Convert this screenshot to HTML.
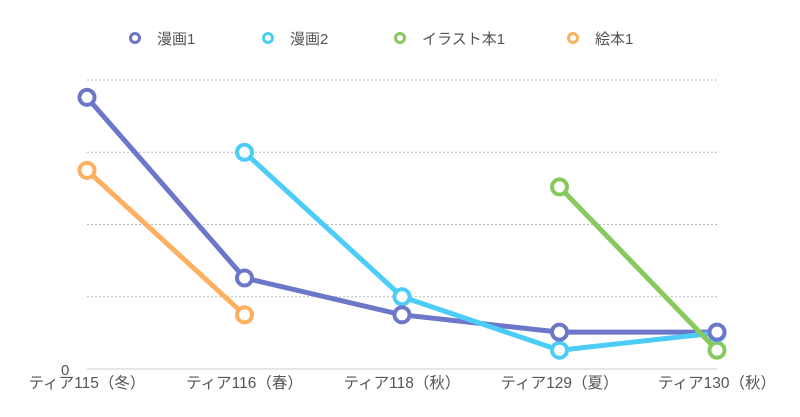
<!DOCTYPE html>
<html><head><meta charset="utf-8"><style>
body{margin:0;background:#fff;}
svg{display:block;font-family:"Liberation Sans","Noto Sans CJK JP",sans-serif;}
</style></head><body>
<svg id="chart" width="800" height="417"></svg>
<script>
const categories=["ティア115（冬）","ティア116（春）","ティア118（秋）","ティア129（夏）","ティア130（秋）"];
const seriesNames=["漫画1","漫画2","イラスト本1","絵本1"];
const manga1=[3.76,1.26,0.75,0.51,0.51];
const manga2=[null,3.0,1.0,0.26,0.5];
const illust1=[null,null,null,2.52,0.26];
const ehon1=[2.75,0.75,null,null,null];
const gridTicks=[1,2,3,4];
const colors=["#6c77c9","#4ccdf7","#88c95e","#fdb062"];
const allSeries=[manga1,manga2,illust1,ehon1];
const NS="http://www.w3.org/2000/svg";
const svg=document.getElementById('chart');
const x0=87,x1=717,yBase=369,yTop=80;
const xs=i=>x0+i*(x1-x0)/(categories.length-1);
const ys=v=>yBase-v*(yBase-yTop)/4;
function mk(t,a){const e=document.createElementNS(NS,t);for(const k in a)e.setAttribute(k,a[k]);svg.appendChild(e);return e;}
gridTicks.forEach(t=>{
 const g=mk('line',{x1:x0,x2:x1,y1:ys(t),y2:ys(t),stroke:'#bbb','stroke-dasharray':'2,2','stroke-width':1});
 
 
});
const base=mk('line',{x1:x0,x2:x1,y1:yBase,y2:yBase,stroke:'#ccc','stroke-width':1});


const z=mk('text',{x:61,y:375,'font-size':15,fill:'#555'});z.textContent='0';


categories.forEach((c,i)=>{
 const t=mk('text',{x:xs(i),y:388,'font-size':15.5,fill:'#555','text-anchor':'middle'});t.textContent=c;
 
 
});
allSeries.forEach((s,k)=>{
 let d='';let pen=false;
 s.forEach((v,i)=>{if(v==null){pen=false;return;}d+=(pen?'L':'M')+xs(i)+','+ys(v)+' ';pen=true;});
 const p=mk('path',{d:d,fill:'none',stroke:colors[k],'stroke-width':5,'stroke-linejoin':'round'});
 
 
});
for(let k=allSeries.length-1;k>=0;k--){
 allSeries[k].forEach((v,i)=>{if(v==null)return;
  const c=mk('circle',{cx:xs(i),cy:ys(v),r:7.5,fill:'#fff',stroke:colors[k],'stroke-width':4});
  
  
 });
}
const lx=[135,268,400,573];
seriesNames.forEach((n,k)=>{
 const c=mk('circle',{cx:lx[k],cy:38,r:4.5,fill:'#fff',stroke:colors[k],'stroke-width':3});
 
 
 const t=mk('text',{x:lx[k]+22,y:44,'font-size':15,fill:'#555'});t.textContent=n;
 
 
});
</script>
</body></html>
